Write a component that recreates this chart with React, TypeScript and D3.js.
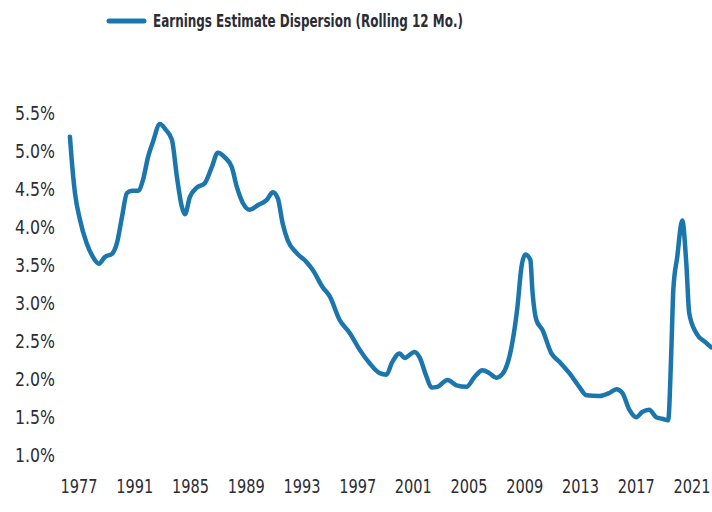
import React from "react";
import * as d3 from "d3";

const seriesName = "Earnings Estimate Dispersion (Rolling 12 Mo.)";

const years = [
  1976.35, 1976.48, 1976.71, 1977.07, 1977.55, 1978.0, 1978.43, 1978.86, 1979.37, 1979.72,
  1980.08, 1980.44, 1980.8, 1981.23, 1981.59, 1981.95, 1982.3, 1982.81, 1983.24, 1983.67,
  1984.03, 1984.38, 1984.6, 1984.96, 1985.46, 1986.03, 1986.53, 1986.96, 1987.47, 1987.97,
  1988.33, 1988.76, 1989.26, 1989.83, 1990.48, 1990.91, 1991.27, 1991.62, 1991.98, 1992.63,
  1993.34, 1993.77, 1994.49, 1995.0, 1995.71, 1996.43, 1997.14, 1997.86, 1998.58, 1999.08,
  1999.44, 2000.01, 2000.37, 2001.09, 2001.44, 2001.95, 2002.3, 2002.73, 2003.45, 2004.1,
  2004.81, 2005.39, 2005.96, 2006.46, 2006.96, 2007.4, 2008.04, 2008.47, 2008.76, 2009.04,
  2009.4, 2009.54, 2009.83, 2010.26, 2010.91, 2011.48, 2012.2, 2012.91, 2013.42, 2014.35,
  2015.07, 2015.57, 2016.0, 2016.5, 2017.0, 2017.43, 2017.93, 2018.43, 2018.86, 2019.29,
  2019.51, 2019.66, 2019.94, 2020.3, 2020.59, 2020.8, 2021.3, 2022.02, 2022.38,
];

const dispersion = [
  5.18, 4.87, 4.44, 4.09, 3.78, 3.6, 3.51, 3.6, 3.64, 3.78,
  4.12, 4.44, 4.47, 4.47, 4.61, 4.91, 5.11, 5.35, 5.27, 5.14,
  4.65, 4.26, 4.16, 4.39, 4.51, 4.57, 4.78, 4.97, 4.91, 4.78,
  4.52, 4.31, 4.22, 4.28, 4.35, 4.45, 4.37, 4.04, 3.82, 3.65,
  3.53, 3.43, 3.2, 3.08, 2.77, 2.6, 2.38, 2.2, 2.07, 2.05,
  2.2, 2.33, 2.27, 2.35, 2.28, 2.02, 1.88, 1.89, 1.98, 1.91,
  1.89, 2.02, 2.11, 2.07, 2.01, 2.06, 2.41, 2.94, 3.47, 3.63,
  3.56, 3.17, 2.77, 2.64, 2.33, 2.22, 2.07, 1.89, 1.78, 1.77,
  1.81, 1.86, 1.81, 1.59, 1.49, 1.56, 1.59, 1.49, 1.47, 1.45,
  2.33, 3.17, 3.6, 4.08, 3.52, 2.86, 2.6, 2.47, 2.41,
];

const xTickYears = [1977, 1981, 1985, 1989, 1993, 1997, 2001, 2005, 2009, 2013, 2017, 2021];
const xTickLabels = ["1977", "1991", "1985", "1989", "1993", "1997", "2001", "2005", "2009", "2013", "2017", "2021"];
const yTicks = [1.0, 1.5, 2.0, 2.5, 3.0, 3.5, 4.0, 4.5, 5.0, 5.5];

const LINE_COLOR = "#1b76ae";
const TEXT_COLOR = "#2c2c34";
const FONT = "'Liberation Sans Narrow', 'DejaVu Sans Condensed', 'Arial Narrow', sans-serif";

export default function App() {
  const W = 712;
  const H = 512;
  const x = d3.scaleLinear().domain([1977, 2021]).range([79, 692]);
  const y = d3.scaleLinear().domain([1.0, 5.5]).range([454.5, 112.5]);
  const pts: [number, number][] = years.map((yr, i) => [yr, dispersion[i]]);
  const line = d3
    .line<[number, number]>()
    .x((d) => x(d[0]))
    .y((d) => y(d[1]))
    .curve(d3.curveMonotoneX);

  return (
    <svg
      width={W}
      height={H}
      style={{ position: "absolute", left: 0, top: 0, background: "#fff" }}
    >
      <rect x={0} y={0} width={W} height={H} fill="#fff" />
      {/* legend */}
      <line x1={109} x2={144} y1={21} y2={21} stroke={LINE_COLOR} strokeWidth={5} strokeLinecap="round" />
      <text
        x={153}
        y={27}
        fontFamily={FONT}
        fontWeight="bold"
        fontSize={17}
        fill={TEXT_COLOR}
        textLength={310}
        lengthAdjust="spacingAndGlyphs"
      >
        {seriesName}
      </text>
      {/* y axis labels */}
      {yTicks.map((v) => (
        <text
          key={v}
          x={15}
          y={y(v)}
          dy="0.36em"
          fontFamily={FONT}
          fontSize={20}
          fill={TEXT_COLOR}
          textAnchor="start"
          textLength={40}
          lengthAdjust="spacingAndGlyphs"
        >
          {v.toFixed(1) + "%"}
        </text>
      ))}
      {/* x axis labels */}
      {xTickYears.map((yr, i) => (
        <text
          key={yr}
          x={x(yr) - 18.5}
          y={493}
          fontFamily={FONT}
          fontSize={20}
          fill={TEXT_COLOR}
          textAnchor="start"
          textLength={37}
          lengthAdjust="spacingAndGlyphs"
        >
          {xTickLabels[i]}
        </text>
      ))}
      {/* series */}
      <path
        d={line(pts) || ""}
        fill="none"
        stroke={LINE_COLOR}
        strokeWidth={4.5}
        strokeLinejoin="round"
        strokeLinecap="round"
      />
    </svg>
  );
}
